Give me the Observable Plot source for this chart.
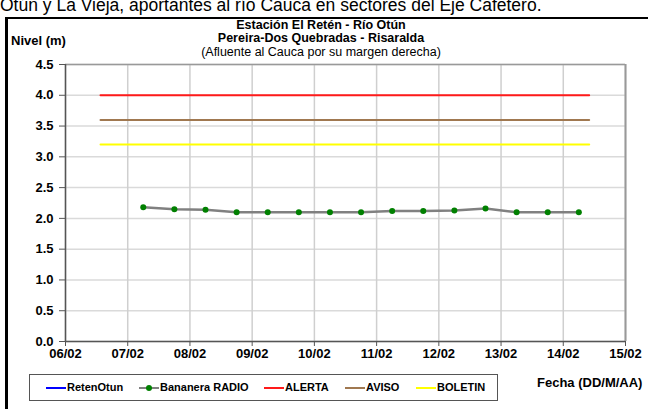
<!DOCTYPE html>
<html>
<head>
<meta charset="utf-8">
<script src="https://cdn.jsdelivr.net/npm/d3@7"></script>
<script src="https://cdn.jsdelivr.net/npm/@observablehq/plot@0.6"></script>
<style>
  html, body { margin: 0; padding: 0; background: #fff; }
  body { width: 648px; height: 409px; overflow: hidden; position: relative; font-family: Arial, "Liberation Sans", sans-serif; }
  .abs { position: absolute; white-space: nowrap; line-height: 1; }
  #frame { position: absolute; left: 5px; top: 17px; width: 700px; height: 500px; border-left: 3px solid #000; border-top: 2px solid #000; box-sizing: border-box; }
  #chart { position: absolute; left: 0; top: 0; }
  .t { font-size: 12.5px; font-weight: bold; color: #000; }
  #legend { position: absolute; left: 29px; top: 374px; width: 469px; height: 27px; border: 1px solid #555; box-sizing: border-box; background: #fff; }
  .lg { position: absolute; top: 0; height: 25px; line-height: 25px; font-size: 11px; font-weight: bold; }
  .sw { position: absolute; top: 12px; height: 2px; width: 20px; }
</style>
</head>
<body>
<div class="abs" style="left:0px; top:-3px; font-size:17.5px; color:#000;">Otún y La Vieja, aportantes al río Cauca en sectores del Eje Cafetero.</div>
<div id="frame"></div>
<div id="chart"></div>
<div class="abs t" style="left:0; width:642px; text-align:center; top:18.5px;">Estación El Retén - Río Otún</div>
<div class="abs t" style="left:0; width:642px; text-align:center; top:32px;">Pereira-Dos Quebradas - Risaralda</div>
<div class="abs" style="left:0; width:642px; text-align:center; top:45.5px; font-size:12.5px;">(Afluente al Cauca por su margen derecha)</div>
<div class="abs t" style="left:11px; top:34px; font-size:13px;">Nivel (m)</div>
<div class="abs t" style="left:537px; top:376px; font-size:13px;">Fecha (DD/M/AA)</div>
<div id="legend"></div>
<script>
// ---- data ----
const levelTimes = [
  "2000-02-07T06:00Z", "2000-02-07T18:00Z", "2000-02-08T06:00Z", "2000-02-08T18:00Z",
  "2000-02-09T06:00Z", "2000-02-09T18:00Z", "2000-02-10T06:00Z", "2000-02-10T18:00Z",
  "2000-02-11T06:00Z", "2000-02-11T18:00Z", "2000-02-12T06:00Z", "2000-02-12T18:00Z",
  "2000-02-13T06:00Z", "2000-02-13T18:00Z", "2000-02-14T06:00Z"
];
const bananeraLevels = [2.18, 2.15, 2.14, 2.10, 2.10, 2.10, 2.10, 2.10, 2.12, 2.12, 2.13, 2.16, 2.10, 2.10, 2.10];
const thresholdNames = ["ALERTA", "AVISO", "BOLETIN"];
const thresholdValues = [4.0, 3.6, 3.2];
const thresholdColors = ["#ff1a1a", "#a07850", "#ffff00"];
const thresholdStart = "2000-02-06T13:30Z";
const thresholdEnd = "2000-02-14T10:00Z";
const xDomain = ["2000-02-06T00:00Z", "2000-02-15T00:00Z"];
const yTicks = [0, 0.5, 1, 1.5, 2, 2.5, 3, 3.5, 4, 4.5];
const legendNames = ["RetenOtun", "Bananera RADIO", "ALERTA", "AVISO", "BOLETIN"];
const legendColors = ["#0000ff", "#808080", "#ff1a1a", "#a07850", "#ffff00"];

// ---- build ----
const series = levelTimes.map((t, i) => ({date: new Date(t), level: bananeraLevels[i]}));
const thresholds = thresholdNames.flatMap((n, i) => [
  {name: n, date: new Date(thresholdStart), level: thresholdValues[i], color: thresholdColors[i]},
  {name: n, date: new Date(thresholdEnd), level: thresholdValues[i], color: thresholdColors[i]}
]);
const x0 = new Date(xDomain[0]), x1 = new Date(xDomain[1]);
const dayTicks = d3.utcDay.range(x0, d3.utcDay.offset(x1, 1));

const plot = Plot.plot({
  width: 648,
  height: 409,
  marginLeft: 65,
  marginRight: 23,
  marginTop: 64,
  marginBottom: 68,
  style: {fontFamily: "Arial, 'Liberation Sans', sans-serif", background: "transparent", overflow: "visible"},
  x: {type: "utc", domain: [x0, x1]},
  y: {domain: [0, 4.5]},
  marks: [
    Plot.gridY(yTicks, {stroke: "#dadada", strokeOpacity: 1, strokeWidth: 1.5}),
    Plot.gridX(dayTicks, {stroke: "#cfcfcf", strokeOpacity: 1, strokeWidth: 1.5}),
    Plot.ruleY([4.5], {stroke: "#999", strokeWidth: 1.5}),
    Plot.ruleX([x1], {stroke: "#999", strokeWidth: 2}),
    Plot.line(thresholds, {x: "date", y: "level", z: "name", stroke: "color", strokeWidth: 2}),
    Plot.line(series, {x: "date", y: "level", stroke: "#808080", strokeWidth: 2.5}),
    Plot.dot(series, {x: "date", y: "level", r: 3, fill: "#008000", stroke: "none"}),
    Plot.ruleX([x0], {stroke: "#555", strokeWidth: 1.5}),
    Plot.ruleY([0], {stroke: "#555", strokeWidth: 1.5}),
    Plot.axisY(yTicks, {tickFormat: d => d.toFixed(1), fontWeight: "bold", fontSize: 13, tickSize: 6, tickPadding: 6, stroke: "#555", label: null, fill: "#000"}),
    Plot.axisX(dayTicks, {tickFormat: d3.utcFormat("%d/%m"), fontWeight: "bold", fontSize: 13, tickSize: 5, tickPadding: 2, stroke: "#555", label: null, fill: "#000"})
  ]
});
document.getElementById("chart").appendChild(plot);

// legend
const legend = document.getElementById("legend");
const legendX = [16, 109, 234, 315, 386];
legendNames.forEach((n, i) => {
  const sw = document.createElement("div");
  sw.className = "sw";
  sw.style.left = legendX[i] + "px";
  sw.style.background = legendColors[i];
  legend.appendChild(sw);
  if (n === "Bananera RADIO") {
    const d = document.createElement("div");
    d.style.cssText = `position:absolute; left:${legendX[i] + 7}px; top:10px; width:6px; height:6px; border-radius:3px; background:#008000;`;
    legend.appendChild(d);
  }
  const t = document.createElement("div");
  t.className = "lg";
  t.style.left = (legendX[i] + 21) + "px";
  t.textContent = n;
  legend.appendChild(t);
});
</script>
</body>
</html>
